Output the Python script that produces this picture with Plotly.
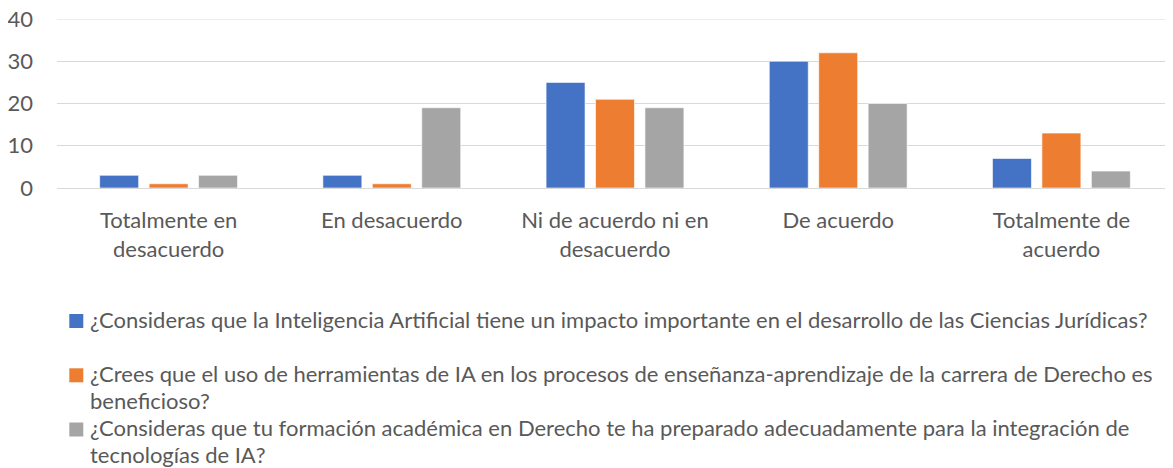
import plotly.graph_objects as go

categories = ["Totalmente en<br>desacuerdo", "En desacuerdo", "Ni de acuerdo ni en<br>desacuerdo",
              "De acuerdo", "Totalmente de<br>acuerdo"]
series_names = [
    "¿Consideras que la Inteligencia Artificial tiene un impacto importante en el desarrollo de las Ciencias Jurídicas?",
    "¿Crees que el uso de herramientas de IA en los procesos de enseñanza-aprendizaje de la carrera de Derecho es<br>beneficioso?",
    "¿Consideras que tu formación académica en Derecho te ha preparado adecuadamente para la integración de<br>tecnologías de IA?",
]
impacto = [3, 3, 25, 30, 7]
beneficioso = [1, 1, 21, 32, 13]
formacion = [3, 19, 19, 20, 4]
y_ticks = [0, 10, 20, 30, 40]

colors = ["#4472C4", "#ED7D31", "#A5A5A5"]
FONT = "Lato"
FS = 22
TXT = "#595959"
GRID = "#D9D9D9"

# the page body has an 8px default margin; lay out in page pixels and compensate
OFF = 8
W, H = 1173 - OFF, 468 - OFF
PL, PT, PB = 57, 19, 188   # plot area in page pixels
L, T, R, B = PL - OFF, PT - OFF, 0, 468 - PB
pw, ph = W - L - R, H - T - B

def px2paper(x, y):
    fx, fy = x - OFF, y - OFF
    return (fx - L) / pw, (H - B - fy) / ph

fig = go.Figure()
for name, vals, c in zip(series_names, [impacto, beneficioso, formacion], colors):
    fig.add_trace(go.Bar(x=categories, y=vals, name=name.replace("<br>", " "),
                         marker=dict(color=c, line=dict(color="rgba(255,255,255,0.6)", width=1)),
                         showlegend=False))

# top gridline (plotly drops the grid line that sits on the axis end)
fig.add_shape(type="line", xref="paper", yref="y", x0=0, x1=1, y0=max(y_ticks), y1=max(y_ticks),
              line=dict(color=GRID, width=1), layer="below")

# manual legend (Excel-style: each entry has room for two lines)
LINE = 27.2
baselines = [329, 383.3, 437.5]
for name, c, bl in zip(series_names, colors, baselines):
    x0, y0 = px2paper(69.3, bl - 15)
    x1, y1 = px2paper(83.3, bl - 1)
    fig.add_shape(type="rect", xref="paper", yref="paper", x0=x0, x1=x1, y0=y1, y1=y0,
                  fillcolor=c, line=dict(width=0))
    for i, line in enumerate(name.split("<br>")):
        ax, ay = px2paper(89.3, bl + i * LINE + 0.213 * FS)
        fig.add_annotation(text=line, xref="paper", yref="paper", x=ax, y=ay, xanchor="left", yanchor="bottom",
                           align="left", showarrow=False, borderpad=0,
                           font=dict(family=FONT, size=FS, color=TXT))

fig.update_layout(
    width=W, height=H,
    margin=dict(l=L, r=R, t=T, b=B, autoexpand=False),
    paper_bgcolor="white", plot_bgcolor="white",
    barmode="group", bargap=0.3355, bargroupgap=0.212,
    font=dict(family=FONT, size=FS, color=TXT),
)
fig.update_xaxes(automargin=False, showline=False, showgrid=False, ticks="",
                 tickfont=dict(family=FONT, size=FS, color=TXT), ticklabelstandoff=17)
fig.update_yaxes(automargin=False, range=[0, 40], tickvals=y_ticks, showgrid=True, gridcolor=GRID, gridwidth=1,
                 zeroline=True, zerolinecolor=GRID, zerolinewidth=1, showline=False, ticks="",
                 ticklabeloverflow="allow",
                 tickfont=dict(family=FONT, size=FS, color=TXT), ticklabelstandoff=23)
fig.write_html("out.html")
